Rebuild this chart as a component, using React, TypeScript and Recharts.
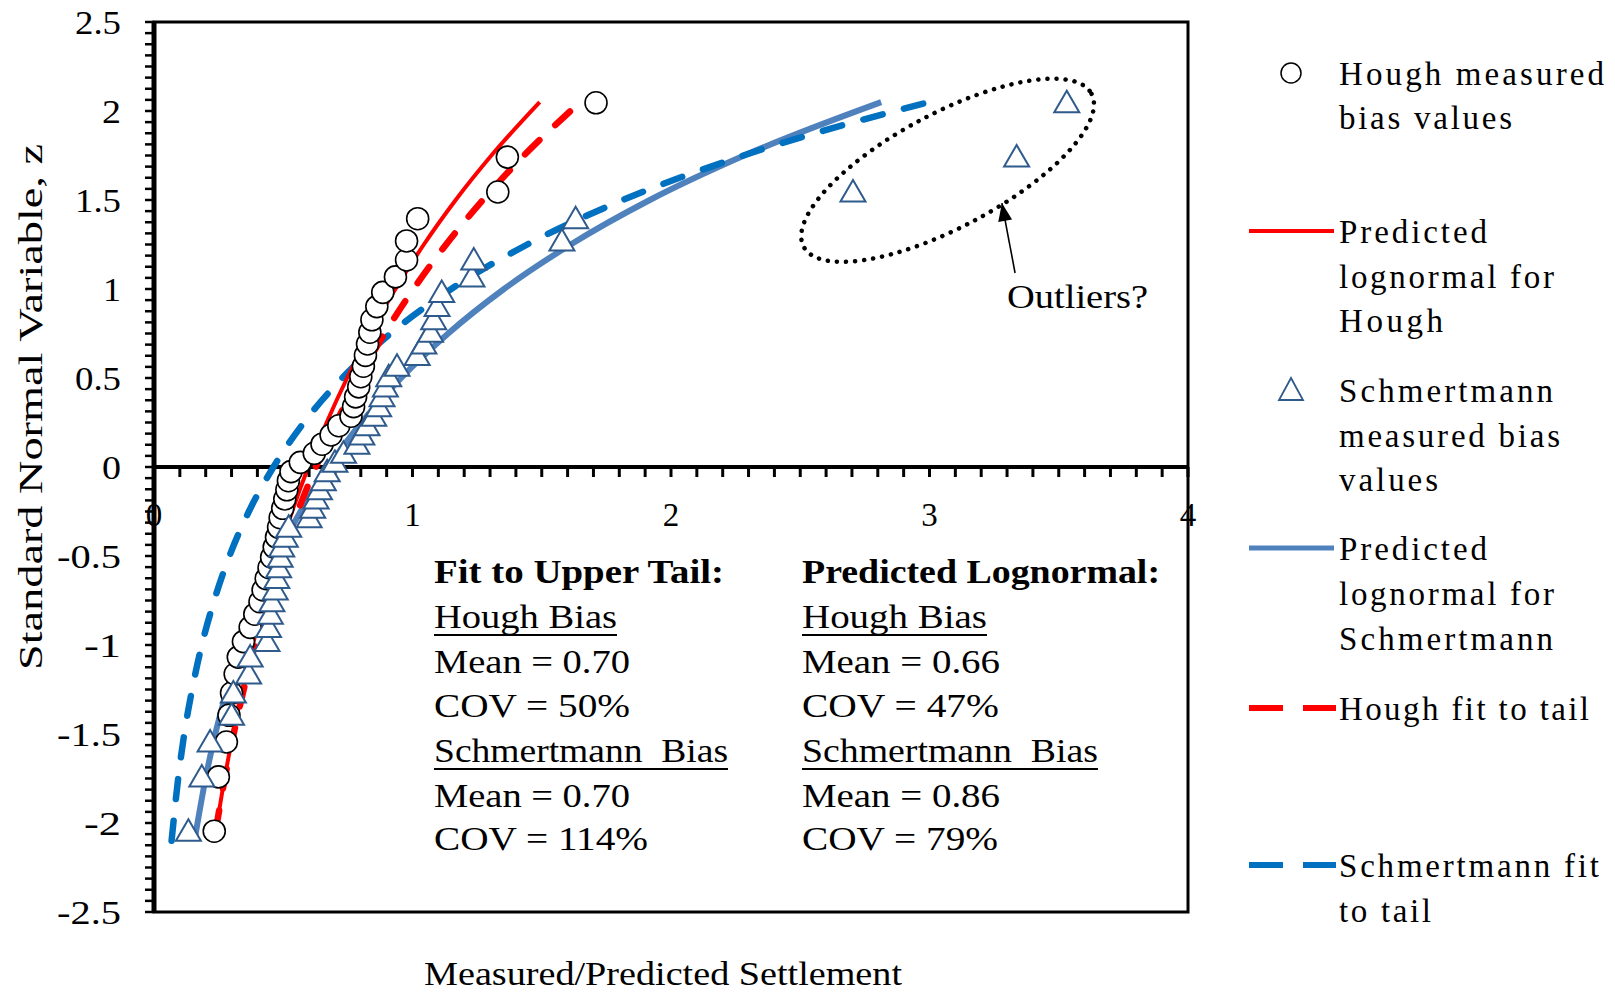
import React from 'react';
import {
  ComposedChart,
  XAxis,
  YAxis,
  Line,
  Scatter,
  ReferenceLine,
  ReferenceArea,
  ReferenceDot,
} from 'recharts';

// ---------- data ----------
// standard normal variable (rank positions) shared by both measured sets
const RANK_Z = [
  -2.046, -1.741, -1.545, -1.395, -1.27, -1.163, -1.068, -0.981, -0.901, -0.827, -0.757, -0.691,
  -0.627, -0.566, -0.507, -0.45, -0.394, -0.339, -0.285, -0.232, -0.18, -0.128, -0.077, -0.026,
  0.026, 0.077, 0.128, 0.18, 0.232, 0.285, 0.339, 0.394, 0.45, 0.507, 0.566, 0.627, 0.691, 0.757,
  0.827, 0.901, 0.981, 1.068, 1.163, 1.27, 1.395, 1.545, 1.741, 2.046,
];

const HOUGH_BIAS = [
  0.233, 0.249, 0.28, 0.29, 0.3, 0.314, 0.326, 0.346, 0.372, 0.39, 0.41, 0.422,
  0.434, 0.445, 0.455, 0.465, 0.474, 0.482, 0.488, 0.498, 0.506, 0.514, 0.52, 0.53,
  0.566, 0.62, 0.65, 0.685, 0.715, 0.762, 0.772, 0.78, 0.792, 0.8, 0.81, 0.818,
  0.826, 0.835, 0.843, 0.862, 0.885, 0.934, 0.977, 0.977, 1.02, 1.33, 1.367, 1.71,
];

const SCHM_BIAS = [
  0.133, 0.185, 0.217, 0.3, 0.307, 0.366, 0.372, 0.437, 0.443, 0.45, 0.456, 0.469,
  0.475, 0.482, 0.488, 0.494, 0.508, 0.521, 0.6, 0.614, 0.627, 0.64, 0.655, 0.67,
  0.7, 0.733, 0.785, 0.804, 0.824, 0.85, 0.869, 0.882, 0.895, 0.908, 0.94, 1.018,
  1.044, 1.07, 1.082, 1.095, 1.113, 1.23, 1.237, 1.578, 1.631, 2.704, 3.337, 3.531,
];

// fitted / predicted lognormal curves (z, bias)
const HOUGH_CURVE_Z = [-2.04, -1.75, -1.5, -1.25, -1, -0.75, -0.5, -0.25, 0, 0.25, 0.5, 0.75, 1, 1.25, 1.5, 1.75, 2.05];
const HOUGH_PRED_X = [0.24, 0.273, 0.306, 0.342, 0.382, 0.427, 0.478, 0.534, 0.597, 0.668, 0.747, 0.835, 0.934, 1.044, 1.167, 1.305, 1.492];
const HOUGH_FIT_X = [0.239, 0.274, 0.308, 0.347, 0.39, 0.439, 0.494, 0.556, 0.626, 0.705, 0.793, 0.892, 1.004, 1.13, 1.272, 1.431, 1.649];

const SCHM_PRED_Z = [-2.07, -1.75, -1.5, -1.25, -1, -0.75, -0.5, -0.25, 0, 0.25, 0.5, 0.75, 1, 1.25, 1.5, 1.75, 2.05];
const SCHM_PRED_X = [0.16, 0.1995, 0.237, 0.283, 0.336, 0.4, 0.476, 0.567, 0.675, 0.803, 0.956, 1.138, 1.354, 1.612, 1.918, 2.283, 2.813];
const SCHM_FIT_Z = [-2.1, -1.75, -1.5, -1.25, -1, -0.75, -0.5, -0.25, 0, 0.25, 0.5, 0.75, 1, 1.25, 1.5, 1.75, 2.05];
const SCHM_FIT_X = [0.068, 0.0935, 0.117, 0.1475, 0.185, 0.2328, 0.292, 0.367, 0.462, 0.58, 0.728, 0.915, 1.15, 1.444, 1.814, 2.28, 2.997];

// axes
const X_DOMAIN: [number, number] = [0, 4];
const Y_DOMAIN: [number, number] = [-2.5, 2.5];
const X_MINOR = 0.1;
const Y_MINOR = 0.0625;
const X_TICKS = Array.from({ length: Math.round((X_DOMAIN[1] - X_DOMAIN[0]) / X_MINOR) + 1 }, (_, i) => Math.round(i) / 10);
const Y_TICKS = Array.from({ length: Math.round((Y_DOMAIN[1] - Y_DOMAIN[0]) / Y_MINOR) + 1 }, (_, i) => Y_DOMAIN[0] + i * Y_MINOR);
const X_LABELS = ['0', '1', '2', '3', '4'];
const Y_LABELS = ['-2.5', '-2', '-1.5', '-1', '-0.5', '0', '0.5', '1', '1.5', '2', '2.5'];

// annotation
const OUTLIER_CENTER = { x: 3.07, y: 1.667 };
const ARROW_TAIL = { x: 3.331, y: 1.09 };
const ARROW_TIP = { x: 3.28, y: 1.483 };

// ---------- styling ----------
const FONT = '"Liberation Serif", "Times New Roman", serif';
const RED = '#FF0000';
const BLUE_SOLID = '#4F81BD';
const BLUE_DASH = '#0070C0';
const TRI_STROKE = '#2F5A8C';

const pts = (xs: number[], zs: number[]) => xs.map((x, i) => ({ x, y: zs[i] }));

const houghPts = pts(HOUGH_BIAS, RANK_Z);
const schmPts = pts(SCHM_BIAS, RANK_Z);
const houghPred = pts(HOUGH_PRED_X, HOUGH_CURVE_Z);
const houghFit = pts(HOUGH_FIT_X, HOUGH_CURVE_Z);
const schmPred = pts(SCHM_PRED_X, SCHM_PRED_Z);
const schmFit = pts(SCHM_FIT_X, SCHM_FIT_Z);

const Circle = (p: any) => (
  <circle cx={p.cx} cy={p.cy} r={11} fill="#fff" stroke="#000" strokeWidth={1.6} />
);
const Tri = (p: any) => (
  <polygon
    points={`${p.cx},${p.cy - 12} ${p.cx - 12.5},${p.cy + 9.5} ${p.cx + 12.5},${p.cy + 9.5}`}
    fill="#fff"
    stroke={TRI_STROKE}
    strokeWidth={2}
  />
);

const Y_LABEL_W: Record<string, number> = {
  '2.5': 46, '2': 19, '1.5': 46, '1': 18, '0.5': 46, '0': 19,
  '-0.5': 64, '-1': 37, '-1.5': 64, '-2': 37, '-2.5': 64,
};

const YTick = (p: any) => {
  const v = p.payload.value;
  const isMajor = Math.abs(v * 2 - Math.round(v * 2)) < 1e-6;
  if (!isMajor) return <g />;
  const label = Y_LABELS.find((l) => Math.abs(parseFloat(l) - v) < 1e-6) ?? String(v);
  return (
    <text
      x={p.x}
      y={p.y}
      dy="0.35em"
      textAnchor="end"
      fontFamily={FONT}
      fontSize={33}
      fill="#000"
      textLength={Y_LABEL_W[label]}
      lengthAdjust="spacingAndGlyphs"
    >
      {label}
    </text>
  );
};

const XTickShape = (v: number) => (p: any) => {
  const isMajor = Math.abs(v - Math.round(v)) < 1e-6;
  return (
    <g>
      <line x1={p.cx} y1={p.cy} x2={p.cx} y2={p.cy + 10} stroke="#000" strokeWidth={3} />
      {isMajor && (
        <text x={p.cx} y={p.cy + 59} textAnchor="middle" fontFamily={FONT} fontSize={33} fill="#000">
          {X_LABELS[Math.round(v)]}
        </text>
      )}
    </g>
  );
};

const EllipseShape = (p: any) => (
  <ellipse
    cx={p.cx}
    cy={p.cy}
    rx={163}
    ry={57}
    transform={`rotate(-28 ${p.cx} ${p.cy})`}
    fill="none"
    stroke="#000"
    strokeWidth={4.5}
    strokeDasharray="0.1 9"
    strokeLinecap="round"
  />
);

const ArrowHead = (p: any) => (
  <polygon
    points={`${p.cx},${p.cy} ${p.cx + 10.2},${p.cy + 16.4} ${p.cx - 3.6},${p.cy + 19}`}
    fill="#000"
  />
);

type TProps = { x: number; y: number; w?: number; bold?: boolean; adj?: 'spacing' | 'spacingAndGlyphs'; children: React.ReactNode; under?: boolean };
const T = ({ x, y, w, bold, adj = 'spacingAndGlyphs', children, under }: TProps) => (
  <g>
    <text
      x={x}
      y={y}
      fontFamily={FONT}
      fontSize={33}
      fontWeight={bold ? 'bold' : 'normal'}
      fill="#000"
      textLength={w}
      lengthAdjust={adj}
      style={{ whiteSpace: 'pre' }}
    >
      {children}
    </text>
    {under && w && <line x1={x} x2={x + w} y1={y + 7} y2={y + 7} stroke="#000" strokeWidth={2} />}
  </g>
);

export default function App() {
  return (
    <div style={{ position: 'absolute', left: 0, top: 0, width: 1615, height: 992, background: '#fff' }}>
      <ComposedChart
        width={1615}
        height={992}
        margin={{ top: 22, right: 427, bottom: 80, left: 94 }}
        style={{ position: 'absolute', left: 0, top: 0 }}
      >
        <XAxis type="number" dataKey="x" domain={X_DOMAIN} hide allowDataOverflow />
        <YAxis
          type="number"
          dataKey="y"
          domain={Y_DOMAIN}
          ticks={Y_TICKS}
          interval={0}
          width={60}
          tickSize={9}
          tickMargin={24}
          axisLine={{ stroke: '#000', strokeWidth: 5 }}
          tickLine={{ stroke: '#000', strokeWidth: 2.5 }}
          tick={YTick}
          allowDataOverflow
        />
        <ReferenceArea x1={0} x2={4} y1={-2.5} y2={2.5} fill="none" fillOpacity={0} stroke="#000" strokeWidth={3} />
        <ReferenceLine y={0} stroke="#000" strokeWidth={4} />
        {X_TICKS.map((v) => (
          <ReferenceDot key={`xt${v}`} x={v} y={0} r={1} shape={XTickShape(v)} ifOverflow="visible" />
        ))}

        <Line data={schmPred} dataKey="y" type="monotone" stroke={BLUE_SOLID} strokeWidth={6} dot={false} activeDot={false} isAnimationActive={false} />
        <Line data={schmFit} dataKey="y" type="monotone" stroke={BLUE_DASH} strokeWidth={6.5} strokeDasharray="20 22" strokeLinecap="round" dot={false} activeDot={false} isAnimationActive={false} />
        <Line data={houghPred} dataKey="y" type="monotone" stroke={RED} strokeWidth={4} dot={false} activeDot={false} isAnimationActive={false} />
        <Line data={houghFit} dataKey="y" type="monotone" stroke={RED} strokeWidth={6.5} strokeDasharray="20 22" strokeLinecap="round" dot={false} activeDot={false} isAnimationActive={false} />

        <Scatter data={houghPts} shape={Circle} isAnimationActive={false} />
        <Scatter data={schmPts} shape={Tri} isAnimationActive={false} />

        <ReferenceDot x={OUTLIER_CENTER.x} y={OUTLIER_CENTER.y} r={1} shape={EllipseShape} ifOverflow="visible" />
        <ReferenceLine
          segment={[ARROW_TAIL, ARROW_TIP]}
          stroke="#000"
          strokeWidth={1.6}
          ifOverflow="visible"
        />
        <ReferenceDot x={ARROW_TIP.x} y={ARROW_TIP.y} r={1} shape={ArrowHead} ifOverflow="visible" />
      </ComposedChart>

      <svg width={1615} height={992} style={{ position: 'absolute', left: 0, top: 0, pointerEvents: 'none' }}>
        {/* axis titles */}
        <text
          x={0}
          y={0}
          transform="translate(42 407) rotate(-90)"
          textAnchor="middle"
          fontFamily={FONT}
          fontSize={34}
          textLength={526}
          lengthAdjust="spacingAndGlyphs"
        >
          Standard Normal Variable, z
        </text>
        <T x={424} y={985} w={478}>Measured/Predicted Settlement</T>

        {/* annotation */}
        <T x={1007} y={308} w={141}>Outliers?</T>

        {/* text box */}
        <T x={434} y={583} w={290} bold>Fit to Upper Tail:</T>
        <T x={434} y={628} w={183} under>Hough Bias</T>
        <T x={434} y={673} w={196}>Mean = 0.70</T>
        <T x={434} y={717} w={196}>COV = 50%</T>
        <T x={434} y={762} w={294} under>Schmertmann  Bias</T>
        <T x={434} y={807} w={196}>Mean = 0.70</T>
        <T x={434} y={850} w={214}>COV = 114%</T>

        <T x={802} y={583} w={358} bold>Predicted Lognormal:</T>
        <T x={802} y={628} w={185} under>Hough Bias</T>
        <T x={802} y={673} w={198}>Mean = 0.66</T>
        <T x={802} y={717} w={197}>COV = 47%</T>
        <T x={802} y={762} w={296} under>Schmertmann  Bias</T>
        <T x={802} y={807} w={198}>Mean = 0.86</T>
        <T x={802} y={850} w={196}>COV = 79%</T>

        {/* legend */}
        <circle cx={1291} cy={73} r={10} fill="#fff" stroke="#000" strokeWidth={1.5} />
        <T x={1339} y={85} w={265} adj="spacing">Hough measured</T>
        <T x={1339} y={129} w={173} adj="spacing">bias values</T>

        <line x1={1249} x2={1334} y1={231} y2={231} stroke={RED} strokeWidth={4} />
        <T x={1339} y={243} w={148} adj="spacing">Predicted</T>
        <T x={1339} y={288} w={215} adj="spacing">lognormal for</T>
        <T x={1339} y={332} w={104} adj="spacing">Hough</T>

        <polygon points="1291,378 1279,400 1303,400" fill="#fff" stroke={TRI_STROKE} strokeWidth={1.8} />
        <T x={1339} y={402} w={214} adj="spacing">Schmertmann</T>
        <T x={1339} y={447} w={221} adj="spacing">measured bias</T>
        <T x={1339} y={491} w={99} adj="spacing">values</T>

        <line x1={1249} x2={1334} y1={548} y2={548} stroke={BLUE_SOLID} strokeWidth={5} />
        <T x={1339} y={560} w={148} adj="spacing">Predicted</T>
        <T x={1339} y={605} w={215} adj="spacing">lognormal for</T>
        <T x={1339} y={650} w={214} adj="spacing">Schmertmann</T>

        <line x1={1249} x2={1336} y1={708} y2={708} stroke={RED} strokeWidth={6} strokeDasharray="34 20" />
        <T x={1339} y={720} w={250} adj="spacing">Hough fit to tail</T>

        <line x1={1249} x2={1336} y1={865} y2={865} stroke={BLUE_DASH} strokeWidth={6} strokeDasharray="34 20" />
        <T x={1339} y={877} w={260} adj="spacing">Schmertmann fit</T>
        <T x={1339} y={922} w={92} adj="spacing">to tail</T>
      </svg>
    </div>
  );
}
